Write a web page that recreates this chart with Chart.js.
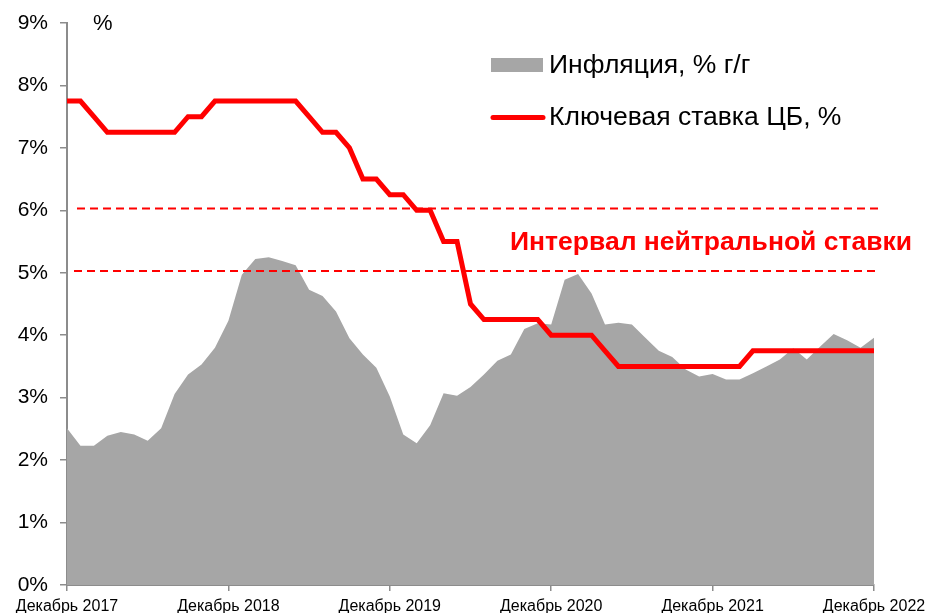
<!DOCTYPE html>
<html>
<head>
<meta charset="utf-8">
<script src="https://cdn.jsdelivr.net/npm/chart.js@4/dist/chart.umd.min.js"></script>
<style>
  html, body { margin: 0; padding: 0; background: #fff; }
  #wrap { width: 928px; height: 613px; }
</style>
</head>
<body>
<div id="wrap"><canvas id="chart" width="928" height="613"></canvas></div>
<script>
// Подписи годовых делений (декабрь каждого года, шаг 12 месяцев)
const yearLabels = ['Декабрь 2017', 'Декабрь 2018', 'Декабрь 2019', 'Декабрь 2020', 'Декабрь 2021', 'Декабрь 2022'];

// Инфляция, % г/г — помесячно с декабря 2017 по декабрь 2022
const inflation = [
  2.51, 2.23, 2.23, 2.39, 2.45, 2.41, 2.31, 2.51, 3.06, 3.37, 3.53, 3.80,
  4.23, 4.97, 5.22, 5.25, 5.19, 5.12, 4.73, 4.63, 4.38, 3.95, 3.69, 3.48,
  3.02, 2.41, 2.27, 2.56, 3.07, 3.03, 3.17, 3.37, 3.59, 3.69, 4.10, 4.19,
  4.17, 4.89, 4.98, 4.67, 4.17, 4.20, 4.17, 3.96, 3.75, 3.65, 3.45, 3.34,
  3.38, 3.29, 3.29, 3.39, 3.50, 3.61, 3.79, 3.61, 3.82, 4.02, 3.92, 3.80,
  3.96
];

// Ключевая ставка ЦБ, %
const keyRate = [
  7.75, 7.75, 7.50, 7.25, 7.25, 7.25, 7.25, 7.25, 7.25, 7.50, 7.50, 7.75,
  7.75, 7.75, 7.75, 7.75, 7.75, 7.75, 7.50, 7.25, 7.25, 7.00, 6.50, 6.50,
  6.25, 6.25, 6.00, 6.00, 5.50, 5.50, 4.50, 4.25, 4.25, 4.25, 4.25, 4.25,
  4.00, 4.00, 4.00, 4.00, 3.75, 3.50, 3.50, 3.50, 3.50, 3.50, 3.50, 3.50,
  3.50, 3.50, 3.50, 3.75, 3.75, 3.75, 3.75, 3.75, 3.75, 3.75, 3.75, 3.75,
  3.75
];

// Интервал нейтральной ставки (нижняя и верхняя границы)
const neutralRange = [5.03, 6.03];

const yTicks = [0, 1, 2, 3, 4, 5, 6, 7, 8, 9];

const toPoints = arr => arr.map((v, i) => ({ x: i, y: v }));

const AXIS_GREY = '#8c8c8c';
const RED = '#ff0000';
const FONT = "'Liberation Sans', Arial, sans-serif";

// Пунктирные линии интервала — поверх заливки, под линией ставки
const neutralLines = {
  id: 'neutralLines',
  beforeDatasetDraw(chart, args) {
    if (args.index !== 1) return;
    const { ctx, chartArea, scales } = chart;
    ctx.save();
    ctx.strokeStyle = RED;
    ctx.lineWidth = 2;
    ctx.setLineDash([8, 5]);
    neutralRange.forEach((v, i) => {
      const y = scales.y.getPixelForValue(v);
      ctx.beginPath();
      ctx.moveTo(chartArea.left + (i === 1 ? 10 : 7), y);
      ctx.lineTo(chartArea.right + 6, y);
      ctx.stroke();
    });
    ctx.restore();
  }
};

// Легенда, подписи "%" и интервала
const overlay = {
  id: 'overlay',
  afterDraw(chart) {
    const { ctx, scales } = chart;
    ctx.save();
    ctx.fillStyle = '#000';
    ctx.font = '22px ' + FONT;
    ctx.textBaseline = 'middle';
    ctx.fillText('%', 93, 24);

    // легенда
    ctx.fillStyle = '#a6a6a6';
    ctx.fillRect(491, 58, 52, 14);
    ctx.strokeStyle = RED;
    ctx.lineWidth = 5;
    ctx.lineCap = 'round';
    ctx.beginPath();
    ctx.moveTo(493, 117.5);
    ctx.lineTo(543, 117.5);
    ctx.stroke();

    ctx.fillStyle = '#000';
    ctx.font = '26.5px ' + FONT;
    ctx.fillText(chart.data.datasets[0].label, 549, 66);
    ctx.fillText(chart.data.datasets[1].label, 549, 118);

    // подпись интервала
    const yMid = scales.y.getPixelForValue((neutralRange[0] + neutralRange[1]) / 2);
    ctx.fillStyle = RED;
    ctx.font = 'bold 26.5px ' + FONT;
    ctx.fillText('Интервал нейтральной ставки', 510, yMid + 3);
    ctx.restore();
  }
};

new Chart(document.getElementById('chart'), {
  type: 'line',
  data: {
    datasets: [
      {
        label: 'Инфляция, % г/г',
        data: toPoints(inflation),
        fill: 'origin',
        backgroundColor: '#a6a6a6',
        borderWidth: 0,
        pointRadius: 0,
        tension: 0,
        order: 2
      },
      {
        label: 'Ключевая ставка ЦБ, %',
        data: toPoints(keyRate),
        borderColor: RED,
        borderWidth: 5,
        pointRadius: 0,
        fill: false,
        tension: 0,
        order: 1
      }
    ]
  },
  options: {
    responsive: false,
    animation: false,
    layout: { padding: { top: 23, right: 54, left: 0, bottom: 0 } },
    plugins: {
      legend: { display: false },
      tooltip: { enabled: false }
    },
    scales: {
      x: {
        type: 'linear',
        min: 0,
        max: 60,
        afterBuildTicks(scale) {
          scale.ticks = yearLabels.map((_, i) => ({ value: i * 12 }));
        },
        afterFit(scale) {
          scale.height = 28;
          scale.paddingLeft = 0;
          scale.paddingRight = 0;
        },
        border: { display: true, color: AXIS_GREY, width: 2 },
        grid: { display: true, drawOnChartArea: false, drawTicks: true, tickLength: 6, color: AXIS_GREY, lineWidth: 1.5 },
        ticks: {
          autoSkip: false,
          maxRotation: 0,
          padding: 6,
          color: '#000',
          font: { family: FONT, size: 16 },
          callback: (v) => yearLabels[v / 12]
        }
      },
      y: {
        min: 0,
        max: 9,
        afterBuildTicks(scale) {
          scale.ticks = yTicks.map(v => ({ value: v }));
        },
        afterFit(scale) {
          scale.width = 67;
          scale.paddingTop = 0;
          scale.paddingBottom = 0;
        },
        border: { display: true, color: AXIS_GREY, width: 2 },
        grid: { display: true, drawOnChartArea: false, drawTicks: true, tickLength: 7, color: AXIS_GREY, lineWidth: 1.5 },
        ticks: {
          padding: 12,
          color: '#000',
          font: { family: FONT, size: 21 },
          callback: (v) => v + '%'
        }
      }
    }
  },
  plugins: [neutralLines, overlay]
});
</script>
</body>
</html>
